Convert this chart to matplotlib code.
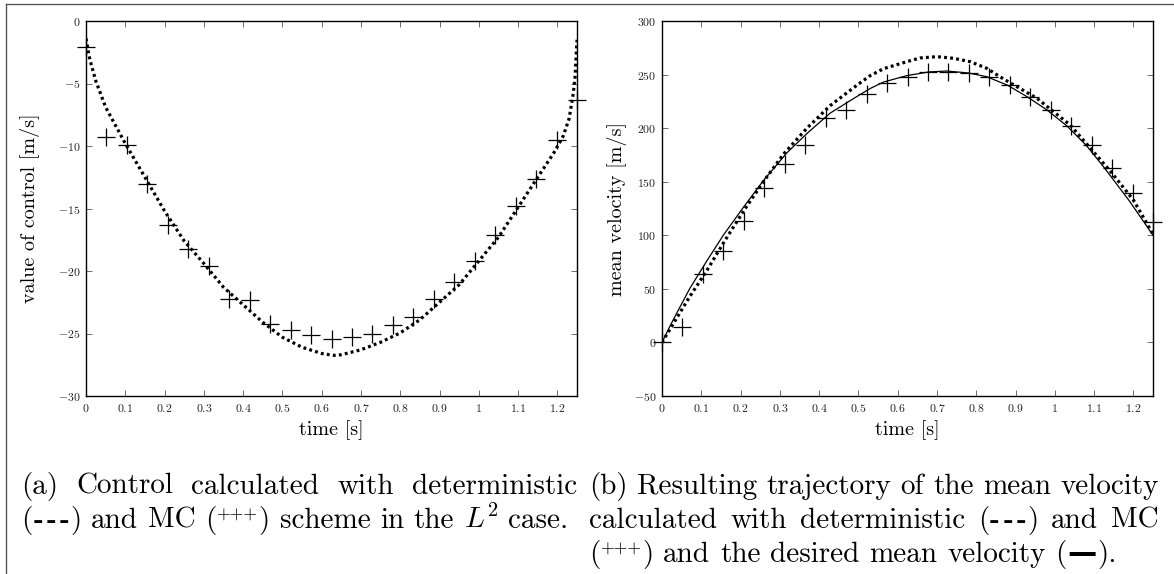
import matplotlib
matplotlib.use("Agg")
import matplotlib.pyplot as plt
from matplotlib.lines import Line2D
from matplotlib.ticker import FuncFormatter, MultipleLocator

plt.rcParams["mathtext.fontset"] = "cm"
plt.rcParams["font.family"] = ["cmr10", "DejaVu Serif"]
plt.rcParams["axes.unicode_minus"] = True

# control: deterministic solution (dotted)
t_ctrl = [0.0, 0.005, 0.01, 0.025, 0.05, 0.1, 0.15, 0.2, 0.25, 0.3, 0.35,
          0.4, 0.45, 0.5, 0.55, 0.6, 0.63, 0.65, 0.7, 0.75, 0.8, 0.85, 0.9,
          0.95, 1.0, 1.05, 1.1, 1.15, 1.19, 1.215, 1.23, 1.24, 1.245, 1.25]
u_det = [-1.4, -2.3, -3.1, -4.8, -6.9, -9.8, -12.5, -15.2, -17.6, -19.4, -21.3,
         -22.7, -24.1, -25.3, -26.1, -26.6, -26.75, -26.7, -26.3, -25.7, -24.95,
         -23.9, -22.5, -21.1, -19.2, -17.3, -14.9, -12.5, -10.6, -9.2, -7.8,
         -5.9, -4.5, -1.5]

# Monte Carlo samples (+)
t_mc = [0.0, 0.052, 0.104, 0.156, 0.208, 0.26, 0.3125, 0.365, 0.417, 0.469,
        0.521, 0.573, 0.625, 0.677, 0.729, 0.781, 0.833, 0.885, 0.9375, 0.99,
        1.042, 1.094, 1.146, 1.198, 1.25]
u_mc = [-2.1, -9.3, -9.95, -13.0, -16.3, -18.2, -19.6, -22.2, -22.3, -24.2,
        -24.7, -25.1, -25.4, -25.3, -25.0, -24.3, -23.65, -22.2, -20.85, -19.2,
        -17.1, -14.8, -12.6, -9.5, -6.3]
v_mc = [0.0, 14.7, 63.6, 85.3, 113.3, 143.8, 166.5, 184.3, 209.2, 216.9,
        231.6, 242.5, 248.0, 252.7, 252.7, 251.8, 247.4, 240.3, 229.4, 216.9,
        202.0, 184.3, 162.5, 139.8, 112.7]

# desired mean velocity (solid)
t_des = [0.0, 0.02, 0.037, 0.071, 0.114, 0.156, 0.207, 0.258, 0.318, 0.369,
         0.428, 0.496, 0.53, 0.564, 0.623, 0.68, 0.725, 0.78, 0.827, 0.88,
         0.929, 0.98, 1.031, 1.08, 1.124, 1.19, 1.25]
v_des = [0.0, 15.0, 27.0, 50.5, 76.0, 100.0, 126.0, 151.0, 177.0, 195.0,
         214.0, 229.5, 237.0, 243.0, 249.0, 252.5, 253.3, 251.5, 248.0, 240.0,
         229.4, 217.0, 202.0, 184.0, 164.0, 132.0, 100.0]

# mean velocity from the deterministic control (dotted)
t_vdet = [0.0, 0.037, 0.071, 0.114, 0.16, 0.21, 0.26, 0.31, 0.369, 0.428,
          0.496, 0.53, 0.564, 0.623, 0.657, 0.7, 0.742, 0.785, 0.827, 0.869,
          0.954, 1.039, 1.141, 1.2, 1.25]
v_det = [0.0, 22.5, 43.0, 67.0, 95.0, 124.0, 151.0, 176.0, 200.0, 221.0,
         240.0, 249.0, 255.5, 262.0, 265.5, 266.7, 265.2, 262.0, 255.8, 246.0,
         228.0, 203.0, 160.0, 133.0, 101.0]

x_ticks = [0, 0.1, 0.2, 0.3, 0.4, 0.5, 0.6, 0.7, 0.8, 0.9, 1.0, 1.1, 1.2]

W, H = 1174, 574
fig = plt.figure(figsize=(W / 100, H / 100), dpi=100)
ax_u = fig.add_axes([86 / W, 1 - 396 / H, 491 / W, 375 / H])
ax_v = fig.add_axes([662 / W, 1 - 396 / H, 491 / W, 375 / H])

dot = dict(color="black", lw=2.3, linestyle=(0, (0.9, 1.0)), dash_capstyle="butt")
plus = dict(linestyle="none", marker="+", markersize=13, markeredgewidth=0.9,
            color="black", clip_on=False, zorder=5)

ax_u.plot(t_ctrl, u_det, **dot)
ax_u.plot(t_mc, u_mc, **plus)
ax_u.set_ylim(-30, 0)
ax_u.yaxis.set_major_locator(MultipleLocator(5))

ax_v.plot(t_des, v_des, color="black", lw=0.9)
ax_v.plot(t_vdet, v_det, **dot)
ax_v.plot(t_mc, v_mc, **plus)
ax_v.set_ylim(-50, 300)
ax_v.yaxis.set_major_locator(MultipleLocator(50))

fmt = FuncFormatter(lambda v, p: "$%g$" % v)
for ax in (ax_u, ax_v):
    ax.set_xlim(0, 1.25)
    ax.set_xticks(x_ticks)
    ax.xaxis.set_major_formatter(fmt)
    ax.yaxis.set_major_formatter(fmt)
    ax.tick_params(direction="in", top=True, right=True, length=4, width=0.6,
                   labelsize=8.5, pad=4, color="#555555", labelcolor="#222222")
    for s in ax.spines.values():
        s.set_linewidth(1.0)
    ax.set_xlabel("time [s]", fontsize=14.5, va="center")
    ax.xaxis.set_label_coords(0.5, -0.092)

ax_u.set_ylabel("value of control [m/s]", fontsize=14.5, va="center")
ax_u.yaxis.set_label_coords(-0.114, 0.5)
ax_v.set_ylabel("mean velocity [m/s]", fontsize=14.5, va="center")
ax_v.yaxis.set_label_coords(-0.092, 0.5)

# frame lines along the top and the left edge
fig.add_artist(Line2D([6 / W, 1], [1 - 3.5 / H] * 2, color="#555555", lw=1.0))
fig.add_artist(Line2D([6 / W] * 2, [0, 1 - 3.5 / H], color="#555555", lw=1.0))

# captions, set word by word so the full lines can be justified
CAP = 21
EM = CAP * 100 / 72
rm = dict(fontsize=CAP, family=["cmr10", "DejaVu Serif"])
bf = dict(fontsize=CAP, family="cmb10")
sm = dict(fontsize=CAP * 0.6, family="cmr10")
dash = dict(fontsize=CAP, family="DejaVu Serif", fontweight="semibold")

renderer = fig.canvas.get_renderer()


def put(x, y, s, style):
    return fig.text(x / W, 1 - y / H, s, ha="left", va="baseline", **style)


def seg_width(text, style):
    t = put(0, 0, text, style)
    w = t.get_window_extent(renderer).width
    t.remove()
    return w


def word(*segs):
    # segment: (text, style[, raise in em[, extra space after in em]])
    out = []
    for s in segs:
        s = tuple(s) + (0, 0)[len(s) - 2:]
        out.append(s[:4])
    return out


def w_(text):
    return word((text, rm))


def seg_adv(seg):
    return seg_width(seg[0], seg[1]) + seg[3] * EM


dashes = word(("(", rm, 0, 0.03), ("-", bf, 0, 0.12), ("-", bf, 0, 0.12),
              ("-", bf, 0, 0.03), (")", rm))
pluses = word(("(", rm, 0, 0.02), ("+++", sm, 0.3, 0.02), (")", rm))
solid = word(("(", rm, 0, 0.03), ("\u2014", dash, 0, 0.03), (").", rm))


def draw_line(words, x0, y, x1=None):
    widths = [sum(seg_adv(s) for s in wd) for wd in words]
    if x1 is None or len(words) == 1:
        gap = EM / 3
    else:
        gap = (x1 - x0 - sum(widths)) / (len(words) - 1)
    x = x0
    for wd, ww in zip(words, widths):
        xs = x
        for seg in wd:
            text, style, rise, _ = seg
            put(xs, y - rise * EM, text, style)
            xs += seg_adv(seg)
        x += ww + gap


cap_a = [
    ([w_("(a)"), w_("Control"), w_("calculated"), w_("with"), w_("deterministic")], True),
    ([dashes, w_("and"), w_("MC"), pluses, w_("scheme"), w_("in"), w_("the"),
      w_("$L^2$"), w_("case.")], False),
]
cap_b = [
    ([w_("(b)"), w_("Resulting"), w_("trajectory"), w_("of"), w_("the"),
      w_("mean"), w_("velocity")], True),
    ([w_("calculated"), w_("with"), w_("deterministic"), dashes, w_("and"),
      w_("MC")], True),
    ([pluses, w_("and"), w_("the"), w_("desired"), w_("mean"), w_("velocity"),
      solid], False),
]

baselines = [494, 528, 562]
for (words, just), yb in zip(cap_a, baselines):
    draw_line(words, 21, yb, 577 if just else None)
for (words, just), yb in zip(cap_b, baselines):
    draw_line(words, 589, yb, 1159 if just else None)

fig.savefig("out.png", dpi=100)
